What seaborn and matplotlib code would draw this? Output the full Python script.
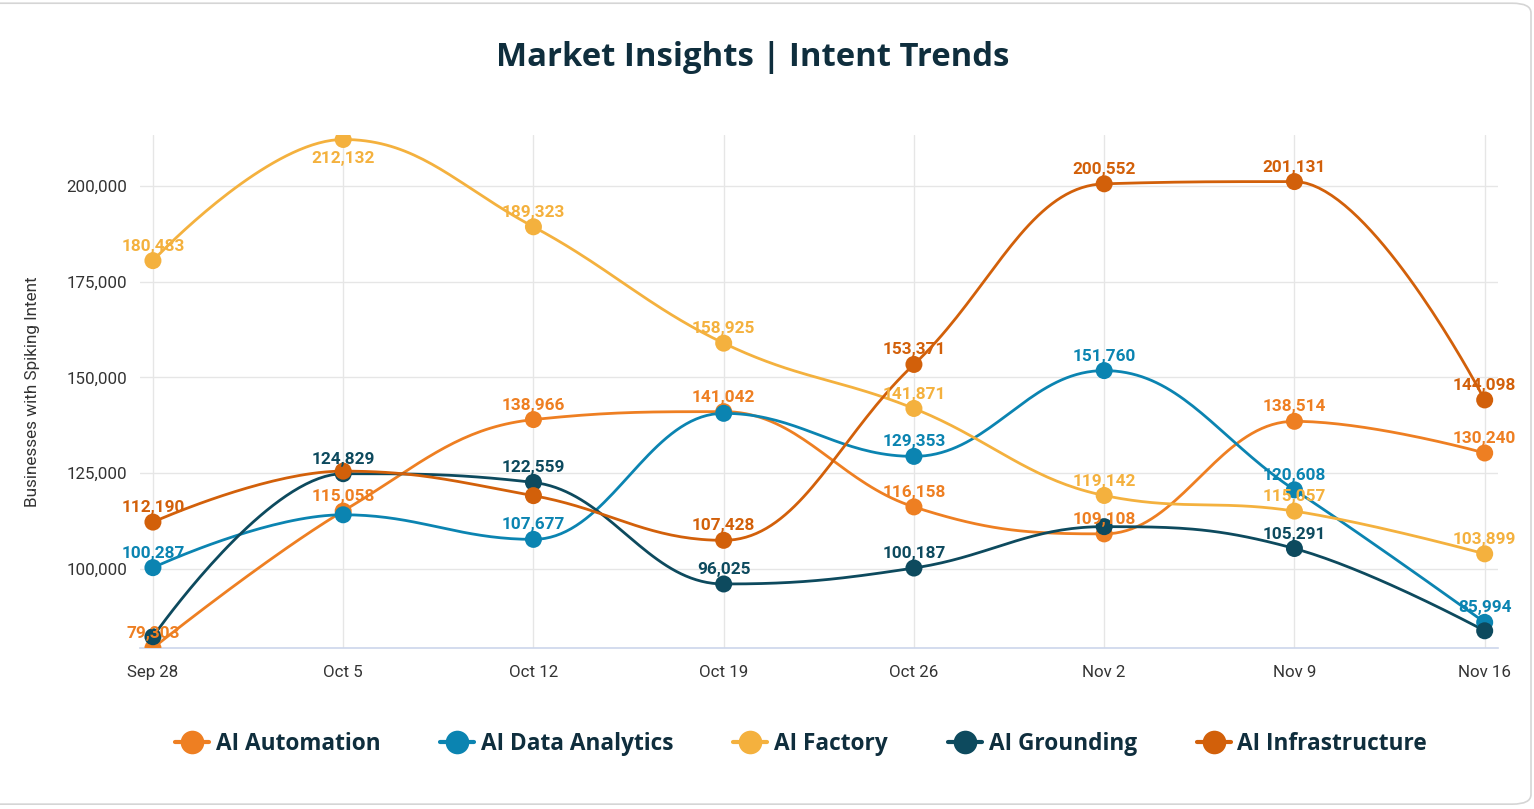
import matplotlib
matplotlib.use("Agg")
import matplotlib.pyplot as plt
from matplotlib.lines import Line2D
from matplotlib.patches import FancyBboxPatch
import numpy as np
import pandas as pd
import seaborn as sns

# ---- data ----
weeks = ["Sep 28", "Oct 5", "Oct 12", "Oct 19", "Oct 26", "Nov 2", "Nov 9", "Nov 16"]
series_names = ["AI Automation", "AI Data Analytics", "AI Factory", "AI Grounding", "AI Infrastructure"]
ai_automation = [79303, 115058, 138966, 141042, 116158, 109108, 138514, 130240]
ai_data_analytics = [100287, 114100, 107677, 140600, 129353, 151760, 120608, 85994]
ai_factory = [180483, 212132, 189323, 158925, 141871, 119142, 115057, 103899]
ai_grounding = [82250, 124829, 122559, 96025, 100187, 111000, 105291, 83800]
ai_infrastructure = [112190, 125500, 119100, 107428, 153371, 200552, 201131, 144098]
# data labels that the chart hid because they overlapped
hidden_labels = {
    "AI Automation": [],
    "AI Data Analytics": [1, 3],
    "AI Factory": [],
    "AI Grounding": [0, 5, 7],
    "AI Infrastructure": [1, 2],
}
colors = ["#EE7F22", "#0B84B1", "#F4B13E", "#0D4A5E", "#D2600A"]

values = dict(zip(series_names, [ai_automation, ai_data_analytics, ai_factory,
                                 ai_grounding, ai_infrastructure]))
palette = dict(zip(series_names, colors))


def spline(xs, ys, smoothing=1.5, n=40):
    """Highcharts-like spline: cubic Bezier segments with clamped control points."""
    m = len(xs)
    lc = [(xs[i], ys[i]) for i in range(m)]
    rc = [(xs[i], ys[i]) for i in range(m)]
    denom = smoothing + 1
    for i in range(1, m - 1):
        px, py = xs[i], ys[i]
        lx, ly = xs[i - 1], ys[i - 1]
        nx, ny = xs[i + 1], ys[i + 1]
        lcx = (smoothing * px + lx) / denom
        lcy = (smoothing * py + ly) / denom
        rcx = (smoothing * px + nx) / denom
        rcy = (smoothing * py + ny) / denom
        corr = (rcy - lcy) * (rcx - px) / (rcx - lcx) + py - rcy
        lcy += corr
        rcy += corr
        if lcy > ly and lcy > py:
            lcy = max(ly, py)
            rcy = 2 * py - lcy
        elif lcy < ly and lcy < py:
            lcy = min(ly, py)
            rcy = 2 * py - lcy
        if rcy > ny and rcy > py:
            rcy = max(ny, py)
            lcy = 2 * py - rcy
        elif rcy < ny and rcy < py:
            rcy = min(ny, py)
            lcy = 2 * py - rcy
        lc[i] = (lcx, lcy)
        rc[i] = (rcx, rcy)
    out_x, out_y = [], []
    t = np.linspace(0, 1, n)
    for i in range(1, m):
        p0 = np.array([xs[i - 1], ys[i - 1]])
        p1 = np.array(rc[i - 1])
        p2 = np.array(lc[i])
        p3 = np.array([xs[i], ys[i]])
        pts = (np.outer((1 - t) ** 3, p0) + np.outer(3 * (1 - t) ** 2 * t, p1)
               + np.outer(3 * (1 - t) * t ** 2, p2) + np.outer(t ** 3, p3))
        out_x.extend(pts[:, 0])
        out_y.extend(pts[:, 1])
    return out_x, out_y


x_idx = list(range(len(weeks)))
points = pd.DataFrame([
    {"x": i, "value": v, "series": s}
    for s in series_names for i, v in zip(x_idx, values[s])
])
curves = []
for s in series_names:
    cx, cy = spline(x_idx, values[s])
    curves.append(pd.DataFrame({"x": cx, "value": cy, "series": s,
                                "order": range(len(cx))}))
curves = pd.concat(curves, ignore_index=True)

# ---- figure ----
sns.set_style("white")
plt.rcParams["font.family"] = ["Roboto", "DejaVu Sans"]

fig = plt.figure(figsize=(15.34, 8.09), dpi=100)
ax = fig.add_axes([140 / 1534, 1 - 648 / 809, (1498 - 140) / 1534, (648 - 135) / 809])

sns.lineplot(data=curves, x="x", y="value", hue="series", palette=palette,
             units="series", estimator=None, sort=False, linewidth=2.0,
             legend=False, ax=ax)
sns.scatterplot(data=points, x="x", y="value", hue="series", palette=palette,
                s=150, linewidth=0, legend=False, ax=ax, zorder=5)

ax.set_xlim(-0.068, 7.07)
ax.set_ylim(79303, 213300)

# labels sit above the point, or inside the plot area when they would overflow the top
y_top = ax.get_ylim()[1]
y_span = y_top - ax.get_ylim()[0]
plot_h_px = 648 - 135
for s in series_names:
    for i, v in zip(x_idx, values[s]):
        if i in hidden_labels[s]:
            continue
        over = (y_top - v) / y_span * plot_h_px < 26
        ax.annotate(f"{v:,}", (i, v), xytext=(0, -8 if over else 5),
                    textcoords="offset points", ha="center",
                    va="top" if over else "bottom", fontsize=12.4, fontweight="bold",
                    color=palette[s], zorder=6)

ax.set_xticks(x_idx)
ax.set_xticklabels(weeks)
ax.set_yticks([100000, 125000, 150000, 175000, 200000])
ax.yaxis.set_major_formatter(matplotlib.ticker.FuncFormatter(lambda v, p: f"{int(v):,}"))
ax.tick_params(axis="both", length=0, labelsize=12.2, labelcolor="#333333")
ax.tick_params(axis="x", pad=12)
ax.tick_params(axis="y", pad=9)
ax.grid(True, color="#E6E6E6", linewidth=1)
ax.set_axisbelow(True)
for side in ["top", "right", "left"]:
    ax.spines[side].set_visible(False)
ax.spines["bottom"].set_color("#CCD6EB")
ax.spines["bottom"].set_linewidth(1.2)
ax.set_xlabel("")
ax.set_ylabel("Businesses with Spiking Intent", fontsize=12.3, color="#333333", labelpad=19)

fig.text(753 / 1534, 1 - 58 / 809, "Market Insights | Intent Trends", ha="center", va="center",
         fontsize=23.7, fontweight="bold", color="#0F2E3D", family=["Open Sans", "DejaVu Sans"])

handles = [Line2D([0], [0], color=palette[s], lw=3, marker="o", markersize=17,
                  markeredgewidth=0) for s in series_names]
fig.legend(handles, series_names, loc="center", bbox_to_anchor=(801 / 1534, 1 - 744 / 809),
           ncol=5, frameon=False, handlelength=1.5, handletextpad=0.3,
           columnspacing=2.65,
           prop={"family": ["Open Sans", "DejaVu Sans"], "weight": "bold", "size": 16.3},
           labelcolor="#0F2E3D")

card = FancyBboxPatch((-0.05, 0.006), 1531 / 1534 + 0.05, 0.99, transform=fig.transFigure,
                      boxstyle="round,pad=0,rounding_size=0.012", facecolor="none",
                      edgecolor="#D5D5D5", linewidth=1.2, zorder=-1)
fig.patches.append(card)

fig.savefig("out.png", dpi=100)
